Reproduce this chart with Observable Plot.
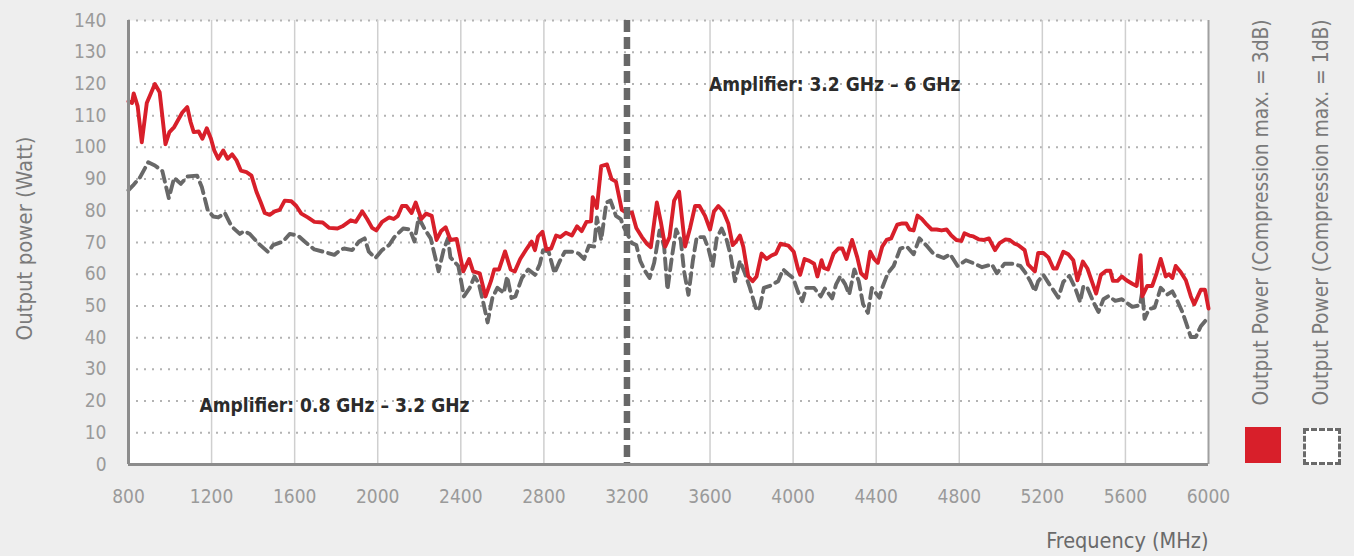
<!DOCTYPE html>
<html>
<head>
<meta charset="utf-8">
<script src="https://cdn.jsdelivr.net/npm/d3@7"></script>
<script src="https://cdn.jsdelivr.net/npm/@observablehq/plot@0.6"></script>
<style>
  html, body { margin: 0; padding: 0; background: #eeeeee; }
  #wrap { position: relative; width: 1354px; height: 556px; overflow: hidden; }
  .sq { position: absolute; box-sizing: border-box; }
</style>
</head>
<body>
<div id="wrap"></div>
<script>
// ---- data ----
const xTicks = [800, 1200, 1600, 2000, 2400, 2800, 3200, 3600, 4000, 4400, 4800, 5200, 5600, 6000];
const yTicks = [0, 10, 20, 30, 40, 50, 60, 70, 80, 90, 100, 110, 120, 130, 140];

const seriesNames = ["Output Power (Compression max. = 3dB)", "Output Power (Compression max. = 1dB)"];

const redFreq = [800, 817, 825, 844, 864, 888, 927, 950, 978, 997, 1020, 1059, 1083, 1099, 1114, 1138, 1156, 1177, 1197, 1213, 1232, 1256, 1277, 1299, 1320, 1341, 1368, 1392, 1416, 1437, 1456, 1480, 1504, 1528, 1552, 1584, 1608, 1632, 1663, 1695, 1735, 1767, 1806, 1830, 1870, 1894, 1926, 1949, 1973, 1993, 2021, 2055, 2077, 2097, 2117, 2138, 2163, 2183, 2210, 2233, 2260, 2283, 2305, 2327, 2350, 2380, 2412, 2440, 2459, 2491, 2519, 2545, 2561, 2584, 2613, 2640, 2660, 2686, 2718, 2741, 2757, 2772, 2793, 2812, 2835, 2859, 2880, 2906, 2935, 2960, 2982, 3005, 3027, 3035, 3055, 3076, 3104, 3126, 3147, 3175, 3200, 3224, 3245, 3272, 3296, 3315, 3344, 3363, 3384, 3405, 3427, 3451, 3480, 3504, 3528, 3549, 3576, 3600, 3619, 3640, 3664, 3688, 3709, 3725, 3744, 3760, 3784, 3805, 3824, 3848, 3872, 3896, 3917, 3939, 3977, 4003, 4023, 4034, 4055, 4078, 4101, 4117, 4137, 4148, 4168, 4195, 4218, 4237, 4257, 4284, 4309, 4327, 4351, 4371, 4390, 4408, 4429, 4450, 4472, 4501, 4525, 4545, 4561, 4580, 4599, 4620, 4644, 4667, 4691, 4715, 4739, 4762, 4786, 4810, 4825, 4849, 4868, 4893, 4920, 4943, 4972, 4994, 5023, 5043, 5067, 5083, 5115, 5131, 5164, 5180, 5205, 5229, 5253, 5269, 5301, 5325, 5349, 5369, 5395, 5417, 5438, 5459, 5482, 5507, 5527, 5540, 5562, 5583, 5605, 5633, 5654, 5673, 5681, 5705, 5729, 5750, 5770, 5794, 5810, 5826, 5842, 5866, 5891, 5915, 5931, 5963, 5983, 6000];
const redWatt = [114.5, 114, 117, 113, 101.6, 114, 120, 117.4, 101, 104.8, 106.4, 111, 112.7, 108, 104.8, 105, 102.7, 106, 102.7, 99, 96.4, 99, 96.4, 97.8, 95.9, 92.7, 92.2, 91.1, 86, 82.6, 79.3, 78.7, 79.8, 80.3, 83.2, 83, 81.5, 79.1, 77.9, 76.5, 76.3, 74.6, 74.4, 75.1, 77, 76.5, 79.8, 77.4, 74.6, 73.8, 76.5, 77.9, 77.4, 78.4, 81.5, 81.5, 79.3, 82.6, 77.4, 79.1, 78.4, 70.8, 73.6, 74.8, 70.8, 71.1, 60.9, 64.8, 60.9, 60.3, 53, 57.8, 61.5, 61.5, 67.2, 61.5, 60.9, 64.8, 68.1, 70.3, 67.6, 71.9, 73.4, 67.8, 68.1, 72.2, 71.7, 73.1, 72.2, 75.1, 73.6, 76.5, 76.7, 84.3, 80.9, 94.1, 94.6, 90, 89.2, 80.3, 79.3, 79.5, 74.6, 71.7, 69.6, 68.5, 82.6, 76.5, 68.7, 71.7, 83.2, 86, 68.7, 74.6, 81.5, 81.5, 78.4, 74.1, 79.8, 81.5, 79.8, 76, 69.2, 70.3, 72.2, 68.7, 59.3, 57.8, 59.3, 66.5, 64.8, 65.9, 66.5, 69.6, 69, 67.1, 61.8, 59.8, 64.8, 64.2, 63.3, 59.3, 64.4, 62, 61.5, 66.5, 68.1, 68.1, 64.8, 70.8, 65.3, 60.3, 58.8, 67.1, 64.8, 63.6, 68.7, 70.8, 71.3, 75.6, 76, 76, 74.1, 73.8, 78.5, 77.4, 75.6, 74.1, 74.1, 73.8, 74.1, 72.2, 70.8, 70.5, 72.9, 72.2, 71.9, 71, 70.8, 71.3, 67.6, 69.8, 71, 70.8, 69.6, 69.2, 67.6, 63.1, 60.9, 66.7, 66.7, 65.3, 61.8, 61.8, 67.1, 66.3, 64.4, 58.1, 64, 61.8, 57.8, 53.9, 59.8, 61.1, 61.1, 57.9, 57.9, 59.3, 58.1, 57, 56.3, 66, 53, 56.3, 56.3, 60.3, 64.8, 59.3, 60, 58.8, 62.6, 60.7, 58.1, 53, 50.5, 55.1, 55.1, 49.2];

const grayFreq = [800, 822, 856, 895, 927, 963, 994, 1020, 1052, 1083, 1130, 1153, 1181, 1208, 1232, 1264, 1296, 1336, 1357, 1384, 1424, 1472, 1496, 1544, 1576, 1616, 1648, 1695, 1743, 1791, 1823, 1838, 1877, 1910, 1937, 1957, 1989, 2021, 2055, 2080, 2122, 2155, 2177, 2197, 2227, 2255, 2293, 2317, 2338, 2350, 2388, 2415, 2443, 2466, 2486, 2505, 2529, 2552, 2576, 2607, 2623, 2644, 2663, 2694, 2725, 2757, 2780, 2796, 2823, 2851, 2877, 2901, 2935, 2968, 2993, 3017, 3042, 3055, 3076, 3101, 3121, 3147, 3170, 3183, 3224, 3245, 3264, 3288, 3309, 3331, 3357, 3379, 3395, 3416, 3437, 3459, 3475, 3496, 3517, 3536, 3571, 3592, 3613, 3632, 3656, 3680, 3699, 3720, 3744, 3768, 3792, 3824, 3840, 3859, 3888, 3928, 3952, 3977, 4000, 4023, 4044, 4063, 4101, 4133, 4153, 4188, 4207, 4227, 4251, 4270, 4295, 4316, 4337, 4360, 4379, 4415, 4429, 4456, 4484, 4516, 4548, 4580, 4608, 4640, 4678, 4725, 4756, 4792, 4832, 4863, 4910, 4957, 4981, 5018, 5058, 5094, 5120, 5142, 5164, 5180, 5205, 5234, 5257, 5277, 5301, 5330, 5358, 5382, 5398, 5417, 5446, 5470, 5494, 5519, 5551, 5583, 5633, 5670, 5681, 5692, 5713, 5741, 5770, 5802, 5826, 5850, 5874, 5891, 5915, 5939, 5963, 5987, 6000];
const grayWatt = [86.5, 88, 90.6, 95.3, 94.3, 92.5, 84, 90.4, 88.5, 90.8, 91.1, 87.5, 80.3, 78.2, 77.9, 79.3, 75.1, 72.7, 73.6, 72.7, 69.8, 67, 69.2, 70.3, 72.7, 72.2, 70.3, 67.8, 67, 66.1, 67.8, 68.1, 67.6, 70.3, 71.3, 67.1, 65.1, 67.6, 69.2, 71.7, 74.4, 74.1, 70.3, 77.9, 74.1, 71.3, 60.9, 67.6, 71.3, 65.3, 62.6, 53, 55.7, 59.3, 57.2, 52, 44.8, 52.5, 55.7, 54.1, 59.3, 52.5, 53, 58.8, 61.5, 59.8, 63.1, 67.6, 67.1, 60.3, 64.2, 67.1, 67.1, 66.5, 64.8, 69, 68.7, 77.9, 70.8, 82.6, 83.2, 78.4, 77.4, 75.1, 69.8, 69.2, 64.2, 60.9, 58.8, 63.6, 73.8, 68.7, 55.1, 65.3, 74.1, 70.8, 60.9, 53.5, 64.2, 71.7, 71.7, 68.1, 62.6, 71.3, 74.4, 70.8, 65.9, 57.8, 64.2, 60.3, 55.7, 48.5, 49.6, 55.7, 56.3, 57.8, 61.5, 60, 58.8, 54.6, 51.5, 55.7, 55.7, 53, 55.5, 52.4, 56.8, 59.3, 56.8, 53.6, 61.5, 57.8, 50.5, 47.8, 55.7, 52.6, 55.7, 60.3, 62.6, 68.1, 68.7, 66.3, 71.3, 69.2, 66.3, 65.1, 66.3, 62.6, 64.4, 63.6, 62.2, 63.1, 60.3, 63.3, 63.3, 62.6, 60.3, 57.8, 54.6, 57.8, 59.8, 56.8, 54.6, 52.6, 57.6, 59.5, 55.7, 51.2, 56.3, 55.7, 51.2, 48.1, 52.1, 53.1, 51.6, 52.1, 49.7, 50.2, 54.6, 45.9, 49, 49.5, 55.7, 53.6, 54.6, 51.6, 48.1, 44.9, 40.2, 40.2, 43.6, 45.5, 44.3];

const bandLabels = ["Amplifier: 3.2 GHz – 6 GHz", "Amplifier: 0.8 GHz – 3.2 GHz"];
const bandLabelFreq = [3595, 1142];
const bandLabelWatt = [119.8, 18.6];
const bandSplit = [3200];

// ---- build tables ----
const red = redFreq.map((f, i) => ({f, w: redWatt[i]}));
const gray = grayFreq.map((f, i) => ({f, w: grayWatt[i]}));
const bands = bandLabels.map((t, i) => ({t, f: bandLabelFreq[i], w: bandLabelWatt[i]}));

const FONT = "'Liberation Sans Narrow', 'DejaVu Sans Condensed', 'Roboto', sans-serif";

const chart = Plot.plot({
  width: 1354,
  height: 556,
  marginLeft: 128,
  marginRight: 146,
  marginTop: 20,
  marginBottom: 92,
  style: {background: "transparent", fontFamily: FONT, fontStretch: "condensed", fontSize: "19px", color: "#9a9a9a", overflow: "visible"},
  x: {domain: [800, 6000]},
  y: {domain: [0, 140]},
  marks: [
    Plot.frame({fill: "white", stroke: null}),
    Plot.ruleY(yTicks.filter(d => d > 0), {stroke: "#b3b3b3", strokeWidth: 2, strokeDasharray: "2,6"}),
    Plot.ruleX(xTicks.filter(d => d > 800 && d < 6000 && !bandSplit.includes(d)), {stroke: "#cfcfcf", strokeWidth: 1.5}),
    Plot.axisY({ticks: yTicks, tickSize: 0, tickPadding: 22, label: null, fill: "#9a9a9a", fontSize: 19}),
    Plot.axisX({ticks: xTicks, tickSize: 0, tickPadding: 25, label: null, fill: "#9a9a9a", fontSize: 19, tickFormat: d => String(d)}),
    Plot.ruleX([6000], {stroke: "#a0a0a0", strokeWidth: 2}),
    Plot.line(gray, {x: "f", y: "w", stroke: "#686868", strokeWidth: 3.9, strokeDasharray: "11,6"}),
    Plot.line(red, {x: "f", y: "w", stroke: "#d81f2a", strokeWidth: 3.9}),
    Plot.ruleX(bandSplit, {stroke: "#686868", strokeWidth: 6.5, strokeDasharray: "12,5"}),
    Plot.ruleX([800], {stroke: "#8c8c8c", strokeWidth: 3}),
    Plot.ruleY([0], {stroke: "#8c8c8c", strokeWidth: 3}),
    Plot.text(bands, {x: "f", y: "w", text: "t", textAnchor: "start", fontWeight: "bold", fontSize: 19, fill: "#2b2b2b"}),
    Plot.text(["Output power (Watt)"], {frameAnchor: "left", dx: -104, dy: -4, rotate: -90, textAnchor: "middle", fontSize: 22, fill: "#7a7a7a"}),
    Plot.text(["Frequency (MHz)"], {frameAnchor: "bottom-right", dy: 83, textAnchor: "end", fontSize: 21.5, fill: "#6a6a6a"}),
    Plot.text([seriesNames[0]], {frameAnchor: "bottom-right", dx: 53, dy: -59, rotate: -90, textAnchor: "start", lineAnchor: "middle", fontSize: 20.8, fill: "#7a7a7a"}),
    Plot.text([seriesNames[1]], {frameAnchor: "bottom-right", dx: 113, dy: -59, rotate: -90, textAnchor: "start", lineAnchor: "middle", fontSize: 20.8, fill: "#7a7a7a"})
  ]
});

const wrap = document.getElementById("wrap");
wrap.appendChild(chart);

// legend swatches
const s1 = document.createElement("div");
s1.className = "sq";
Object.assign(s1.style, {left: "1245px", top: "427px", width: "36px", height: "36px", background: "#d81f2a"});
const s2 = document.createElement("div");
s2.className = "sq";
Object.assign(s2.style, {left: "1303px", top: "428px", width: "38px", height: "37px", background: "#ffffff", border: "3px dashed #6a6a6a"});
wrap.appendChild(s1);
wrap.appendChild(s2);
</script>
</body>
</html>
